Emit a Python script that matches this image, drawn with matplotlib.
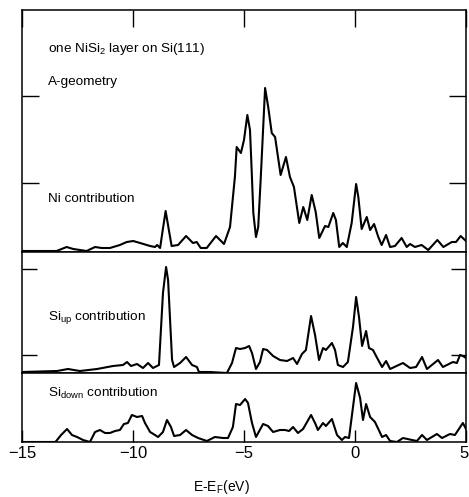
import numpy as np
import matplotlib.pyplot as plt
from matplotlib.transforms import ScaledTranslation

plt.rcParams['font.family'] = ['Liberation Sans', 'DejaVu Sans']
plt.rcParams['mathtext.fontset'] = 'custom'
plt.rcParams['mathtext.rm'] = 'Liberation Sans'

# Local density of states (arb. units) vs E - E_F (eV), read as curve vertices
ni_energy = [-15.00, -13.44, -12.99, -12.69, -12.09, -11.71, -11.41, -11.04, -10.59, -10.28,
             -9.99, -9.68, -9.23, -9.01, -8.91, -8.78, -8.66, -8.53, -8.40, -8.26,
             -7.97, -7.61, -7.30, -7.13, -6.95, -6.68, -6.26, -5.90, -5.63, -5.41,
             -5.33, -5.14, -5.00, -4.85, -4.73, -4.65, -4.58, -4.46, -4.36, -4.25,
             -4.05, -3.91, -3.75, -3.60, -3.35, -3.11, -2.93, -2.75, -2.51, -2.33,
             -2.15, -1.95, -1.77, -1.61, -1.35, -1.20, -0.98, -0.86, -0.71, -0.55,
             -0.37, -0.15, 0.05, 0.15, 0.30, 0.53, 0.68, 0.86, 1.05, 1.20,
             1.40, 1.58, 1.80, 2.10, 2.33, 2.48, 2.70, 3.00, 3.30, 3.71,
             3.98, 4.36, 4.55, 4.76, 4.95, 5.00]
ni_dos = [1, 1, 5, 3, 1, 5, 4, 4, 7, 10,
          11, 9, 6, 5, 7, 4, 22, 41, 24, 6,
          7, 16, 9, 10, 4, 4, 16, 8, 25, 75,
          105, 99, 112, 137, 122, 79, 39, 15, 25, 72,
          164, 145, 119, 115, 77, 95, 75, 65, 29, 45,
          32, 57, 40, 14, 26, 25, 39, 32, 5, 9,
          5, 29, 68, 55, 23, 35, 22, 28, 15, 7,
          17, 5, 6, 14, 5, 8, 5, 7, 2, 12,
          5, 10, 10, 16, 12, 11]

si_up_energy = [-15.00, -13.42, -12.93, -12.39, -11.62, -10.90, -10.45, -10.27, -10.09, -9.82,
                -9.55, -9.32, -9.10, -8.83, -8.65, -8.51, -8.42, -8.24, -8.15, -7.88,
                -7.61, -7.34, -7.12, -7.03, -6.53, -5.77, -5.54, -5.36, -5.18, -4.95,
                -4.77, -4.64, -4.46, -4.28, -4.14, -3.96, -3.69, -3.38, -3.06, -2.79,
                -2.61, -2.39, -2.21, -1.98, -1.80, -1.62, -1.44, -1.31, -1.04, -0.90,
                -0.77, -0.54, -0.32, -0.09, 0.05, 0.18, 0.32, 0.50, 0.63, 0.81,
                0.95, 1.22, 1.40, 1.58, 2.16, 2.48, 2.75, 3.02, 3.24, 3.74,
                3.96, 4.41, 4.59, 4.73, 4.86, 5.00]
si_up_dos = [1, 2, 4, 2, 4, 7, 8, 11, 7, 9,
             5, 10, 5, 8, 80, 106, 93, 13, 6, 10,
             16, 8, 6, 1, 1, 0, 10, 25, 24, 25,
             27, 20, 4, 11, 24, 23, 17, 13, 12, 15,
             9, 19, 23, 57, 38, 13, 25, 23, 30, 23,
             8, 6, 11, 46, 76, 56, 27, 42, 25, 23,
             17, 6, 12, 4, 10, 5, 6, 16, 4, 13,
             6, 11, 10, 18, 17, 15]

si_down_energy = [-15.00, -13.50, -13.42, -13.24, -12.97, -12.75, -12.52, -12.25, -11.94, -11.71,
                  -11.49, -11.26, -11.04, -10.81, -10.59, -10.41, -10.23, -10.05, -9.82, -9.59,
                  -9.46, -9.23, -9.01, -8.87, -8.65, -8.47, -8.29, -8.15, -7.88, -7.61,
                  -7.34, -7.07, -6.67, -6.31, -5.95, -5.72, -5.50, -5.36, -5.18, -4.95,
                  -4.82, -4.64, -4.46, -4.14, -3.92, -3.69, -3.38, -3.15, -2.97, -2.79,
                  -2.57, -2.34, -1.98, -1.80, -1.67, -1.44, -1.31, -1.04, -0.81, -0.59,
                  -0.45, -0.27, -0.09, 0.05, 0.23, 0.36, 0.50, 0.68, 0.90, 1.22,
                  1.40, 1.58, 1.89, 2.16, 2.57, 2.79, 3.02, 3.24, 3.69, 3.92,
                  4.28, 4.50, 4.86, 5.00]
si_down_dos = [0, 0, 2, 7, 13, 7, 5, 2, 0, 10,
               12, 9, 9, 11, 12, 18, 19, 27, 25, 26,
               19, 10, 7, 5, 10, 22, 15, 6, 7, 12,
               7, 4, 1, 5, 4, 4, 15, 38, 37, 43,
               39, 19, 5, 18, 16, 10, 12, 12, 11, 15,
               9, 13, 27, 19, 12, 19, 16, 23, 7, 2,
               5, 4, 35, 59, 44, 22, 38, 25, 20, 5,
               7, 1, 0, 4, 2, 1, 7, 2, 8, 4,
               8, 7, 19, 13]

xticks = [-15, -10, -5, 0, 5]
xtick_labels = ['\u221215', '\u221210', '\u22125', '0', '5']

W, H = 469, 497
fig = plt.figure(figsize=(W / 100, H / 100), dpi=100)

def panel(top, bottom):
    return fig.add_axes([22 / W, (H - bottom) / H, 444 / W, (bottom - top) / H])

ax1 = panel(10, 252)
ax2 = panel(252, 373)
ax3 = panel(373, 442)

curves = [(ax1, ni_energy, ni_dos, 242), (ax2, si_up_energy, si_up_dos, 121),
          (ax3, si_down_energy, si_down_dos, 69)]
for ax, e, d, top in curves:
    ax.plot(e, d, color='black', lw=1.5, solid_joinstyle='round')
    ax.set_xlim(-15, 5)
    ax.set_ylim(0, top)
    for s in ax.spines.values():
        s.set_linewidth(1.1)
    ax.set_xticks(xticks)
    ax.tick_params(direction='in', width=1.0, labelbottom=False, labelleft=False,
                   bottom=False, top=False, left=False, right=False)

# inward tick marks on the outer frame
ax1.set_yticks([69, 156])
ax1.tick_params(top=True, length=12, left=True, right=True)
ax2.set_yticks([18, 104])
ax2.tick_params(length=11, left=True, right=True)
ax3.set_yticks([])
ax3.set_xticklabels(xtick_labels)
ax3.tick_params(bottom=True, length=9, labelbottom=True, labelsize=12, pad=3)

# keep the last label inside the figure edge
last = ax3.get_xticklabels()[-1]
last.set_horizontalalignment('right')
last.set_transform(last.get_transform() + ScaledTranslation(3 / 100, 0, fig.dpi_scale_trans))

labels = [(48, 49, 'one NiSi$_2$ layer on Si(111)'),
          (48, 82, 'A-geometry'),
          (48, 199, 'Ni contribution'),
          (48, 317, 'Si$_{\\rm up}$ contribution'),
          (48, 393, 'Si$_{\\rm down}$ contribution')]
for x, y, s in labels:
    fig.text(x / W, 1 - y / H, s, fontsize=9.7, ha='left', va='center')

fig.text(221 / W, 1 - 487 / H, 'E-E$_{\\rm F}$(eV)', fontsize=10, ha='center', va='center')

fig.savefig('out.png', dpi=100)
